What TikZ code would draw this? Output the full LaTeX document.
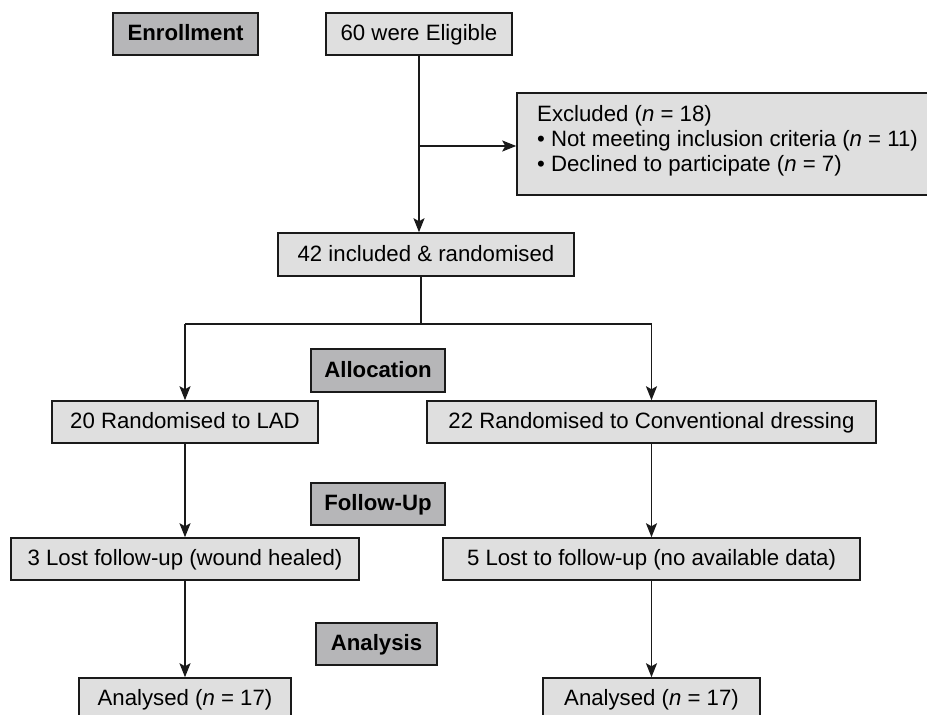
\documentclass[tikz,border=0pt]{standalone}
\usepackage{fontspec}
\setmainfont{Liberation Sans}
\usetikzlibrary{arrows.meta}
\definecolor{boxfill}{HTML}{DFDFDF}
\definecolor{phasefill}{HTML}{B6B6B8}
\definecolor{edge}{HTML}{1A1A1A}
\begin{document}
\begin{tikzpicture}[x=1pt,y=-1pt,
  every node/.style={font=\fontsize{22.2}{25}\selectfont, inner sep=0pt, text height=17.5pt, text depth=4.5pt},
  box/.style={draw=edge, fill=boxfill, line width=1.5pt, minimum height=42pt},
  phase/.style={draw=edge, fill=phasefill, line width=1.5pt, minimum height=42pt, font=\fontsize{22.2}{25}\selectfont\bfseries},
  conn/.style={draw=edge, line width=1.5pt},
  arr/.style={conn, -{Stealth[length=14pt,width=11pt,inset=3pt]}}
]
\useasboundingbox (0,0) rectangle (927,715);
\clip (0,0) rectangle (927,715);
\fill[white] (0,0) rectangle (927,715);

\node[phase, minimum width=145pt] (enr) at (185.5,34) {Enrollment};
\node[box, minimum width=186pt] (elig) at (419,34) {60 were Eligible};
\node[box, minimum width=420pt, minimum height=102pt] (excl) at (727,144) {};
\node[anchor=base west] (excl1) at (537,121) {Excluded (\textit{n} = 18)};
\node[anchor=base west] (excl2) at (537,146) {• Not meeting inclusion criteria (\textit{n} = 11)};
\node[anchor=base west] (excl3) at (537,171) {• Declined to participate (\textit{n} = 7)};
\node[box, minimum width=296pt, minimum height=43pt] (incl) at (426,254.5) {42 included \& randomised};

\node[phase, minimum width=134pt, minimum height=43pt] (alloc) at (378,370.5) {Allocation};
\node[box, minimum width=266pt] (lad) at (185,422) {20 Randomised to LAD};
\node[box, minimum width=449pt] (conv) at (651.5,422) {22 Randomised to Conventional dressing};

\node[phase, minimum width=134pt] (fu) at (378,504) {Follow-Up};
\node[box, minimum width=348pt] (lostl) at (185,559) {3 Lost follow-up (wound healed)};
\node[box, minimum width=417pt] (lostr) at (651.5,559) {5 Lost to follow-up (no available data)};

\node[phase, minimum width=121pt] (ana) at (376.5,644) {Analysis};
\node[box, minimum width=212pt] (anl) at (185,699) {Analysed (\textit{n} = 17)};
\node[box, minimum width=217pt] (anr) at (651.5,699) {Analysed (\textit{n} = 17)};

% connectors
\coordinate (bx) at (419,146);
\draw[arr] (elig.south) -- (elig.south |- incl.north);
\draw[arr] (bx) -- (bx -| excl.west);
\coordinate (sp) at (421,324);
\draw[conn] (incl.south -| sp) -- (sp);
\draw[conn] (lad.north |- sp) -- (conv.north |- sp);
\draw[arr] (lad.north |- sp) -- (lad.north);
\draw[arr] (conv.north |- sp) -- (conv.north);
\draw[arr] (lad.south) -- (lad.south |- lostl.north);
\draw[arr] (conv.south) -- (conv.south |- lostr.north);
\draw[arr] (lostl.south -| anl.north) -- (anl.north);
\draw[arr] (lostr.south -| anr.north) -- (anr.north);
\end{tikzpicture}
\end{document}
